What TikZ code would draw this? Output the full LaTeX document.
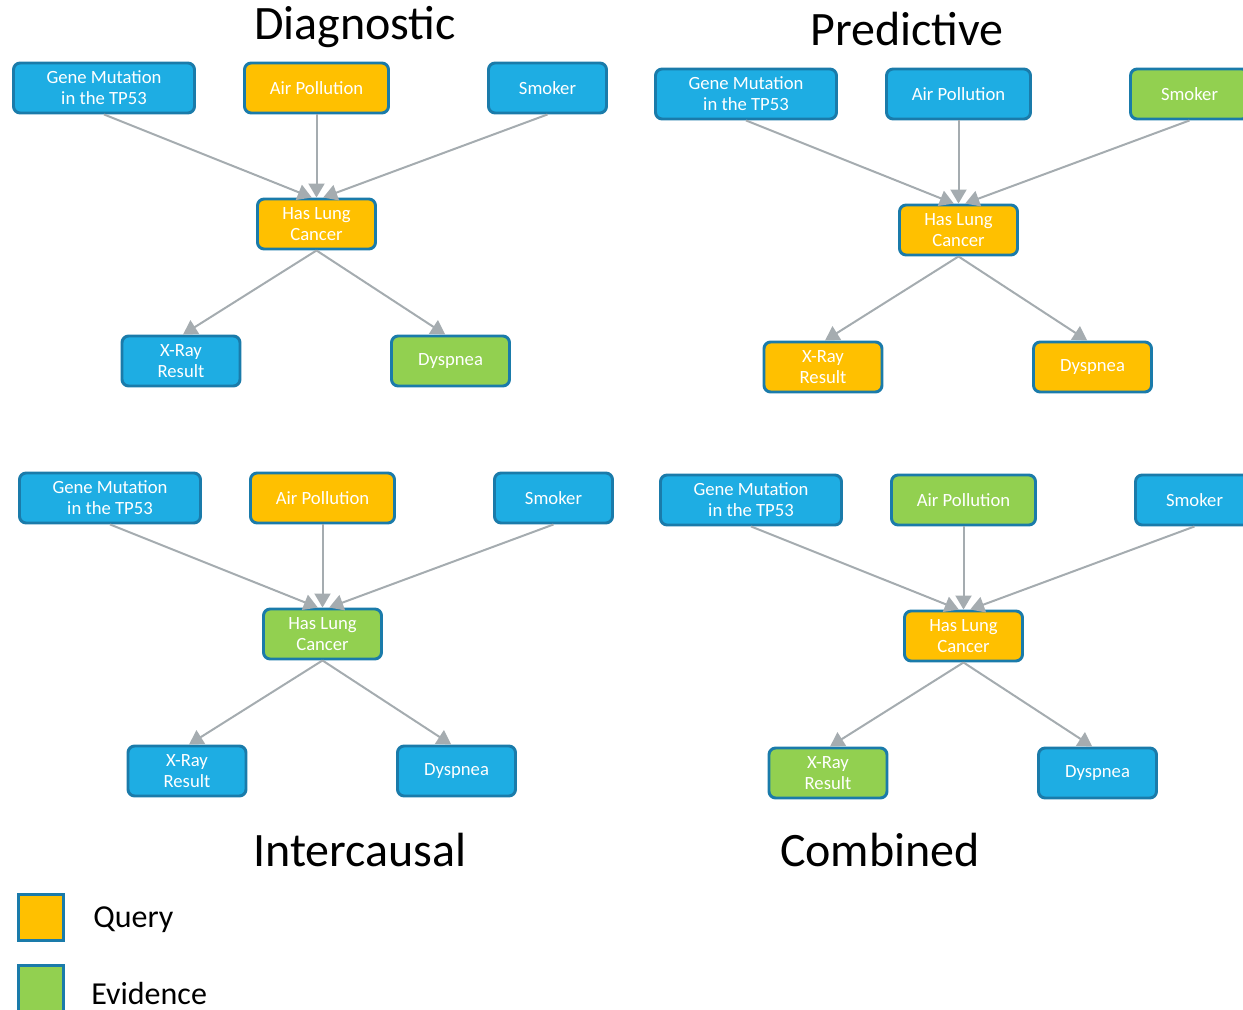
\documentclass[tikz,border=0pt]{standalone}
\usepackage{fontspec}
\setmainfont{Carlito}
\usetikzlibrary{arrows.meta}
\definecolor{qblue}{HTML}{1EADE3}
\definecolor{qedge}{HTML}{1A7BAA}
\definecolor{qorange}{HTML}{FFC000}
\definecolor{qgreen}{HTML}{92D050}
\definecolor{qgray}{HTML}{A5ACB0}
\tikzset{
  bn/.style={draw=qedge, line width=2.2pt, rounded corners=5pt, text=white,
    font=\fontsize{14}{15.75}\selectfont, align=center, inner sep=0pt,
    minimum height=37.5pt},
  wide/.style={minimum width=135.75pt},
  mid/.style={minimum width=108pt},
  small/.style={minimum width=88.5pt},
  link/.style={draw=qgray, line width=1.5pt, -{Triangle[width=12pt,length=10.5pt]}},
  ttl/.style={font=\fontsize{36}{40}\selectfont, inner sep=0pt},
  lgd/.style={font=\fontsize{24}{28}\selectfont, inner sep=0pt, anchor=west},
}
% one Bayesian network panel: prefix, shift, and the six fill colours
\newcommand\bnet[9]{%
\begin{scope}[shift={(#2,#3)}]
  \node[bn, wide,  fill=#4] (#1g) at (104,88)  {Gene Mutation\\in the TP53};
  \node[bn, mid,   fill=#5] (#1a) at (316.5,88) {Air Pollution};
  \node[bn, small, fill=#6] (#1s) at (547.5,88) {Smoker};
  \node[bn, small, fill=#7] (#1h) at (316.5,224) {Has Lung\\Cancer};
  \node[bn, small, fill=#8] (#1x) at (181,361) {X-Ray\\Result};
  \node[bn, small, fill=#9] (#1d) at (450.5,361) {Dyspnea};
  \draw[link] (#1g.south) -- ([xshift=-3.5pt]#1h.north);
  \draw[link] (#1a.south) -- (#1h.north);
  \draw[link] (#1s.south) -- ([xshift=5pt]#1h.north);
  \draw[link] (#1h.south) -- ([xshift=1.5pt]#1x.north);
  \draw[link] (#1h.south) -- ([xshift=-4pt]#1d.north);
\end{scope}}
\begin{document}
\begin{tikzpicture}[x=0.75pt, y=-0.75pt]
  \path[use as bounding box] (0,0) rectangle (1243,1010);
  \begin{scope}
    \clip (0,0) rectangle (1243,1010);
    \bnet{p}{0}{0}{qblue}{qorange}{qblue}{qorange}{qblue}{qgreen}
    \bnet{q}{642}{6}{qblue}{qblue}{qgreen}{qorange}{qorange}{qorange}
    \bnet{r}{6}{410}{qblue}{qorange}{qblue}{qgreen}{qblue}{qblue}
    \bnet{c}{647}{412}{qblue}{qgreen}{qblue}{qorange}{qgreen}{qblue}
    % panel titles
    \node[ttl] (tdiag)  at (355,27)  {Diagnostic};
    \node[ttl] (tpred)  at (907,29)  {Predictive};
    \node[ttl] (tinter) at (360,850) {Intercausal};
    \node[ttl] (tcomb)  at (880,850) {Combined};
    % legend
    \node[draw=qedge, line width=2.2pt, fill=qorange, minimum size=34pt, inner sep=0pt] (kq) at (41,917.5) {};
    \node[draw=qedge, line width=2.2pt, fill=qgreen,  minimum size=34pt, inner sep=0pt] (ke) at (41,988.5) {};
    \node[lgd] (lq) at (93,920) {Query};
    \node[lgd] (le) at (91,993) {Evidence};
  \end{scope}
\end{tikzpicture}
\end{document}
